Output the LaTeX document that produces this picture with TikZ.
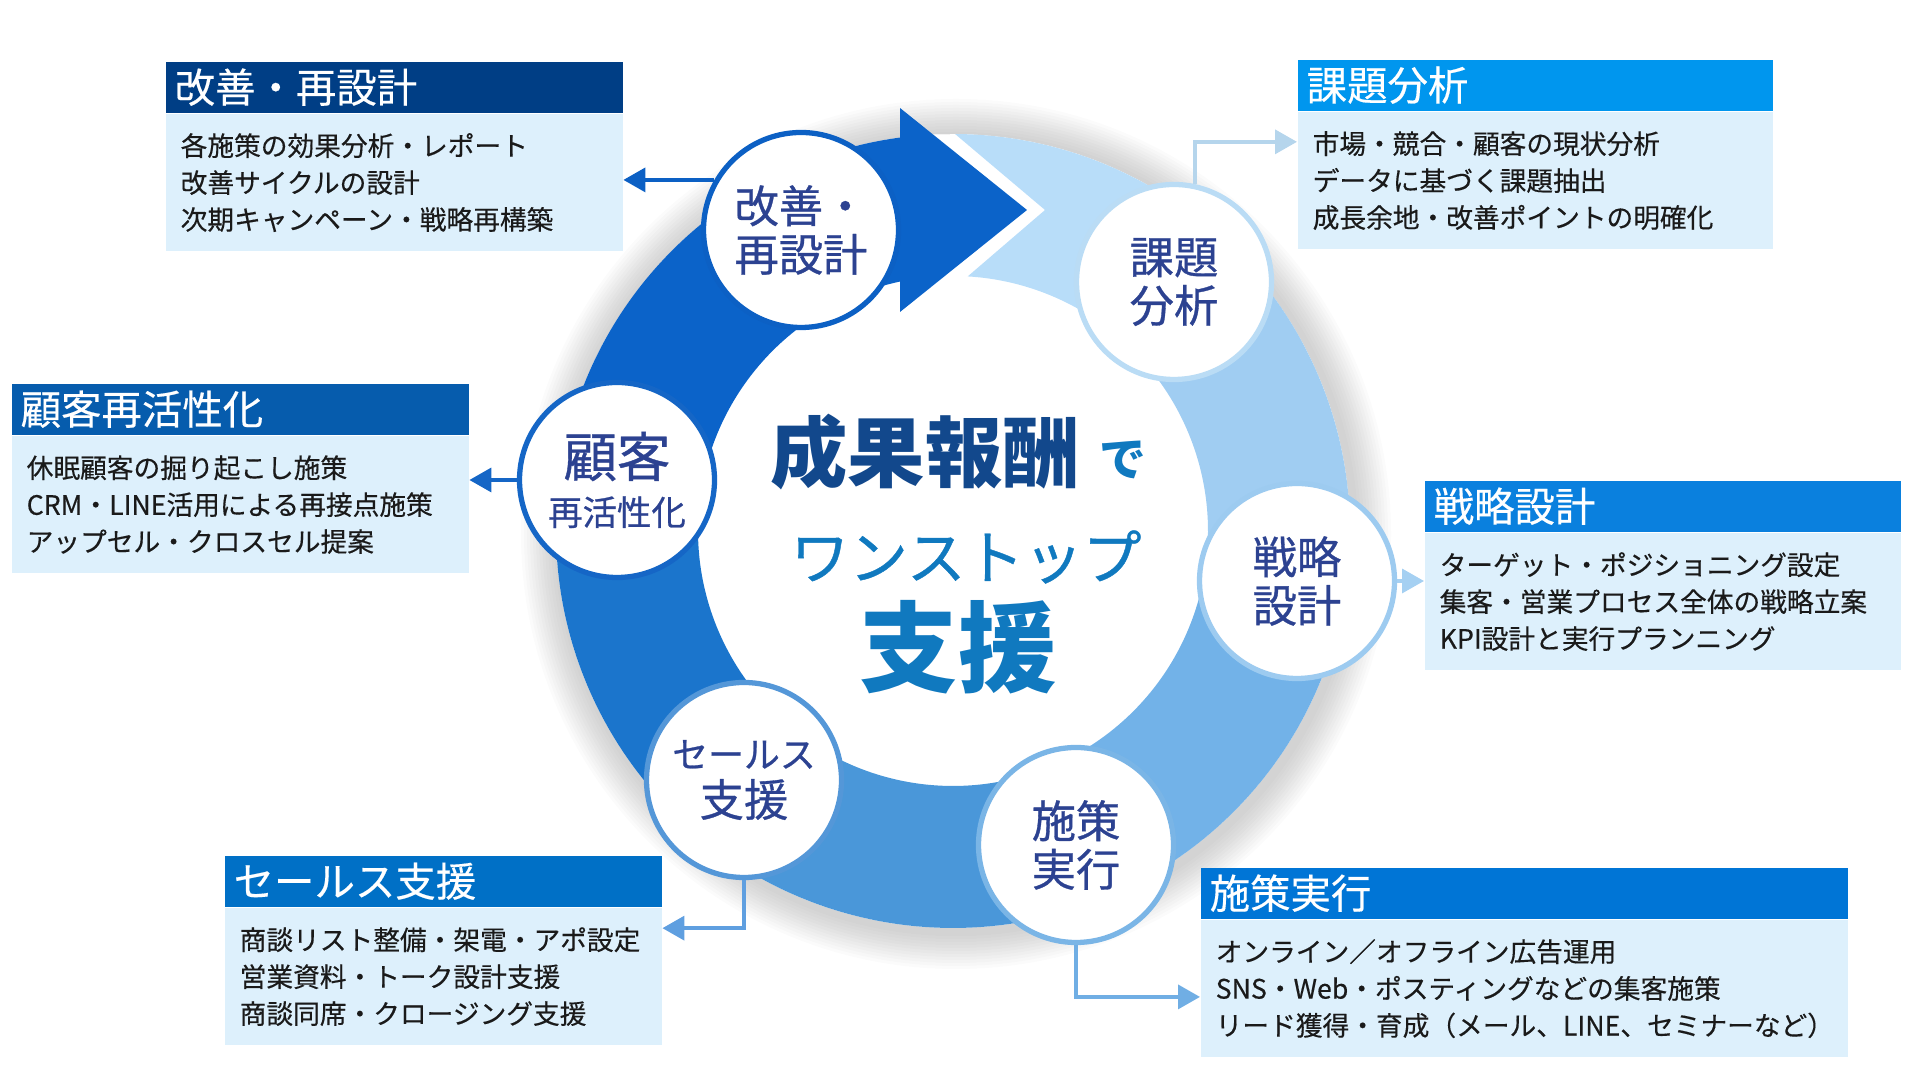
\documentclass[tikz,border=0pt]{standalone}
\usepackage{fontspec}
\setmainfont{Noto Sans CJK JP}
\newfontfamily\jpmed{Noto Sans CJK JP}[FakeBold=0.7]
\newfontfamily\jpsemi{Noto Sans CJK JP}[FakeBold=0.35]
\usepackage{tikz}
\usetikzlibrary{positioning,calc,arrows.meta}

\definecolor{ringA}{HTML}{0B63C9}
\definecolor{ringB}{HTML}{1B75CC}
\definecolor{ringC}{HTML}{4A97D9}
\definecolor{ringD}{HTML}{72B2E8}
\definecolor{ringE}{HTML}{A0CDF2}
\definecolor{ringF}{HTML}{B8DDF9}
\definecolor{kaizenring}{HTML}{0C60C4}
\definecolor{kadairing}{HTML}{BADCF5}
\definecolor{senryakuring}{HTML}{9DCBF0}
\definecolor{shisakuring}{HTML}{7AB5E6}
\definecolor{salesring}{HTML}{5497D8}
\definecolor{kokyakuring}{HTML}{1566C6}
\definecolor{kadailine}{HTML}{B5D5EC}
\definecolor{senryakuline}{HTML}{A5D0F2}
\definecolor{shisakuline}{HTML}{70AEE4}
\definecolor{salesline}{HTML}{5F9FE0}
\definecolor{labelnavy}{HTML}{2C4291}
\definecolor{bodyblue}{HTML}{DDF0FC}
\definecolor{bodytext}{HTML}{1A1A1A}
\definecolor{hdrKaizen}{HTML}{003E85}
\definecolor{hdrKadai}{HTML}{0096EE}
\definecolor{hdrKokyaku}{HTML}{065CAD}
\definecolor{hdrSenryaku}{HTML}{0A80DE}
\definecolor{hdrSales}{HTML}{0070C6}
\definecolor{hdrShisaku}{HTML}{0075D6}
\definecolor{titlenavy}{HTML}{12488C}
\definecolor{titleblue}{HTML}{1079BF}

\newcommand{\ringpart}[3]{%
  \fill[#1] ($(C)+(#2:\Rout)$) arc[start angle=#2, end angle=#3, radius=\Rout]
    -- ($(C)+(#3:\Rin)$) arc[start angle=#3, end angle=#2, radius=\Rin] -- cycle;}

\begin{document}
\begin{tikzpicture}[
    stagecircle/.style={circle, draw=#1, line width=1.5pt, fill=white, minimum size=1.95cm,
      inner sep=0pt, align=center, text=labelnavy, font=\jpmed\fontsize{12.6}{13.8}\selectfont},
    hdrbox/.style={anchor=north west, fill=#1, text=white, minimum height=0.51cm,
      inner xsep=0.09cm, inner ysep=0pt, align=left, font=\jpsemi\fontsize{11.5}{12}\selectfont},
    bodybox/.style={anchor=north west, fill=bodyblue, text=bodytext, minimum height=1.37cm,
      inner xsep=0.15cm, inner ysep=0pt, align=left, font=\jpsemi\fontsize{7.6}{10.5}\selectfont},
    link/.style={draw=#1, line width=1pt, -{Triangle[length=2.2mm, width=2.4mm]}},
]
    \useasboundingbox (0,0) rectangle (19.2,10.8);
    \coordinate (C) at (9.53,5.49);
    \def\Rout{3.97}
    \def\Rin{2.55}

    % soft shadow round the ring
    \foreach \k in {1,...,12}
        \fill[black, opacity=0.016, even odd rule] ($(C)+(0.03,-0.03)$) circle ({\Rout+0.02+0.03*\k}) (C) circle (\Rout);

    % ring
    \ringpart{ringA}{96}{171.7}
    \ringpart{ringB}{171.7}{230.2}
    \ringpart{ringC}{230.2}{291.4}
    \ringpart{ringD}{291.4}{351.7}
    \ringpart{ringE}{351.7}{408.4}
    \fill[ringF] ($(C)+(48.4:\Rout)$) arc[start angle=48.4, end angle=89.7, radius=\Rout]
        -- (10.45,8.70) -- ($(C)+(86.7:\Rin)$) arc[start angle=86.7, end angle=48.4, radius=\Rin] -- cycle;
    \fill[ringA] (9.00,9.72) -- (10.27,8.70) -- (9.00,7.68) -- cycle;

    % stages
    \node[stagecircle=kaizenring] (kaizen) at (8.01,8.50) {改善・\\再設計};
    \node[stagecircle=kadairing] (kadai) at (11.74,7.98) {課題\\分析};
    \node[stagecircle=senryakuring] (senryaku) at (12.97,4.99) {戦略\\設計};
    \node[stagecircle=shisakuring] (shisaku) at (10.76,2.35) {施策\\実行};
    \node[stagecircle=salesring] (sales) at (7.44,3.00) {{\fontsize{10.2}{12}\selectfont セールス}\\支援};
    \node[stagecircle=kokyakuring] (kokyaku) at (6.17,6.00) {{\fontsize{15.2}{16}\selectfont 顧客}\\{\fontsize{9.8}{12}\selectfont 再活性化}};

    % boxes
    \node[hdrbox=hdrKaizen, text width=4.39cm] (kaizenhdr) at (1.65,10.19) {改善・再設計};
    \node[bodybox, text width=4.27cm] (kaizenbody) at (kaizenhdr.south west)
        {各施策の効果分析・レポート\\改善サイクルの設計\\次期キャンペーン・戦略再構築};

    \node[hdrbox=hdrKadai, text width=4.57cm] (kadaihdr) at (12.97,10.21) {課題分析};
    \node[bodybox, text width=4.45cm] (kadaibody) at (kadaihdr.south west)
        {市場・競合・顧客の現状分析\\データに基づく課題抽出\\成長余地・改善ポイントの明確化};

    \node[hdrbox=hdrKokyaku, text width=4.39cm] (kokyakuhdr) at (0.11,6.97) {顧客再活性化};
    \node[bodybox, text width=4.27cm] (kokyakubody) at (kokyakuhdr.south west)
        {休眠顧客の掘り起こし施策\\CRM・LINE活用による再接点施策\\アップセル・クロスセル提案};

    \node[hdrbox=hdrSenryaku, text width=4.58cm] (senryakuhdr) at (14.24,6.00) {戦略設計};
    \node[bodybox, text width=4.46cm] (senryakubody) at (senryakuhdr.south west)
        {ターゲット・ポジショニング設定\\集客・営業プロセス全体の戦略立案\\KPI設計と実行プランニング};

    \node[hdrbox=hdrSales, text width=4.19cm] (saleshdr) at (2.24,2.25) {セールス支援};
    \node[bodybox, text width=4.07cm] (salesbody) at (saleshdr.south west)
        {商談リスト整備・架電・アポ設定\\営業資料・トーク設計支援\\商談同席・クロージング支援};

    \node[hdrbox=hdrShisaku, text width=6.29cm] (shisakuhdr) at (12.00,2.13) {施策実行};
    \node[bodybox, text width=6.17cm] (shisakubody) at (shisakuhdr.south west)
        {オンライン／オフライン広告運用\\SNS・Web・ポスティングなどの集客施策\\リード獲得・育成（メール、LINE、セミナーなど）};

    % connectors
    \draw[link=kaizenring] (kaizen.150) -- (kaizen.150 -| kaizenbody.east);
    \draw[link=kadailine] (kadai.78) |- ($(kadaibody.north west)!0.22!(kadaibody.south west)$);
    \draw[link=kokyakuring] (kokyaku.west) -- (kokyaku.west -| kokyakubody.east);
    \draw[link=senryakuline] (senryaku.east) -- (senryaku.east -| senryakubody.west);
    \draw[link=salesline] (sales.south) |- ($(salesbody.north east)!0.15!(salesbody.south east)$);
    \draw[link=shisakuline] (shisaku.south) |- ($(shisakubody.north west)!0.56!(shisakubody.south west)$);

    % centre
    \node[font=\fontsize{22}{24}\selectfont\bfseries, text=titlenavy] (reward) at (9.25,6.28) {成果報酬};
    \node[font=\fontsize{13.3}{14}\selectfont\bfseries, text=titleblue] (de) at (11.23,6.20) {で};
    \node[font=\jpmed\fontsize{16.7}{18}\selectfont, text=titleblue] (onestop) at (9.66,5.23) {ワンストップ};
    \node[font=\fontsize{28}{30}\selectfont\bfseries, text=titleblue] (support) at (9.58,4.33) {支援};
\end{tikzpicture}
\end{document}
